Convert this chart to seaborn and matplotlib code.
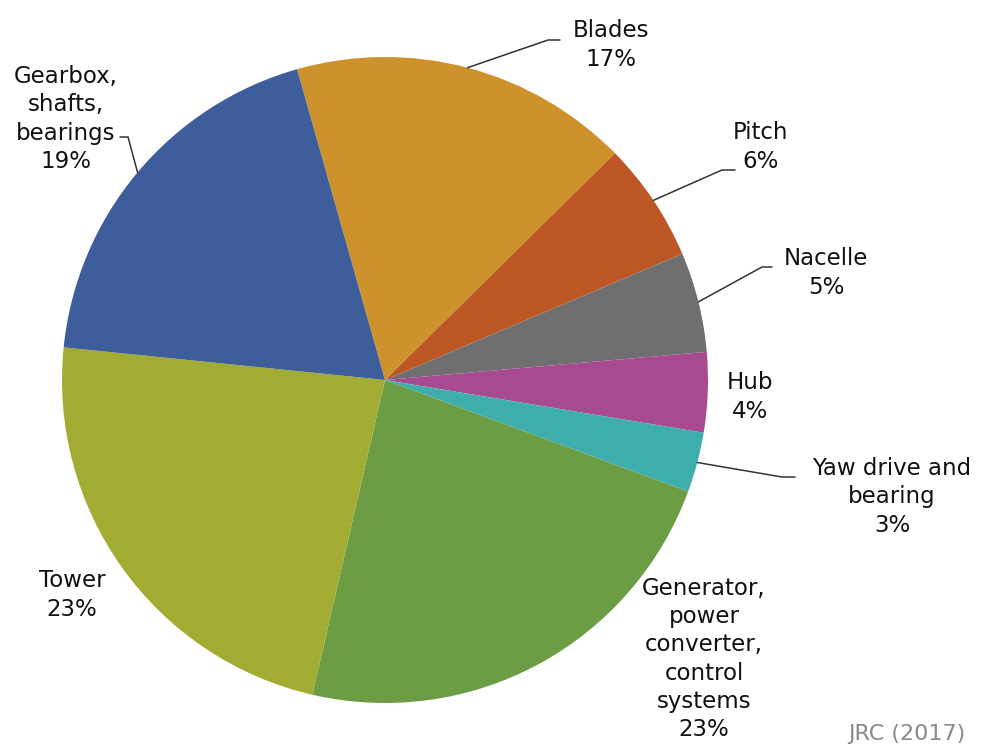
import numpy as np
import matplotlib.pyplot as plt
import seaborn as sns

# data
components = ["Blades", "Pitch", "Nacelle", "Hub", "Yaw drive and\nbearing",
              "Generator,\npower\nconverter,\ncontrol\nsystems", "Tower",
              "Gearbox,\nshafts,\nbearings"]
shares = [17, 6, 5, 4, 3, 23, 23, 19]
colors = ["#CE922C", "#BD5826", "#6F6F6F", "#A84A92", "#3EAEAD",
          "#6C9C43", "#A2AB32", "#3E5E9B"]

sns.set_theme(style="white")
plt.rcParams["font.family"] = ["DejaVu Sans"]

W, H = 982, 747
fig = plt.figure(figsize=(W / 100, H / 100), dpi=100)
ax = fig.add_axes([0, 0, 1, 1])

cx, cy, r = 385, H - 380, 323
wedges, _ = ax.pie(shares, colors=colors, startangle=105.8, counterclock=False,
                   center=(cx, cy), radius=r, frame=True,
                   wedgeprops=dict(linewidth=0))
ax.set_xlim(0, W)
ax.set_ylim(0, H)
ax.set_aspect("equal", adjustable="box")
ax.axis("off")

# label layout in image pixel coords (x, y from top)
label_pos = [(611, 45), (761, 147), (826, 273), (750, 397), (892, 497),
             (704, 659), (72, 595), (66, 119)]
# leader elbows (elbow, end) for labelled slices; None = no leader
leaders = [((548, 40), (560, 40)), ((722, 170), (735, 170)),
           ((762, 267), (772, 267)), None, ((782, 477), (795, 477)),
           None, None, ((128, 137), (120, 137))]

for i, w in enumerate(wedges):
    name = components[i]
    lx, ly = label_pos[i]
    ax.text(lx, H - ly, f"{name}\n{shares[i]}%", ha="center", va="center",
            fontsize=16.5, linespacing=1.3, color="#111111")
    if leaders[i] is not None:
        mid = np.deg2rad((w.theta1 + w.theta2) / 2)
        sx, sy = cx + r * np.cos(mid), cy + r * np.sin(mid)
        (ex, ey), (fx, fy) = leaders[i]
        ax.plot([sx, ex, fx], [sy, H - ey, H - fy], color="#333333", lw=1.1,
                solid_joinstyle="miter")

# source note (kept inside the canvas)
ax.text(848, H - 734, "JRC (2017)", ha="left", va="center", fontsize=16,
        color="#8a8a8a")

fig.savefig("out.png", dpi=100)
